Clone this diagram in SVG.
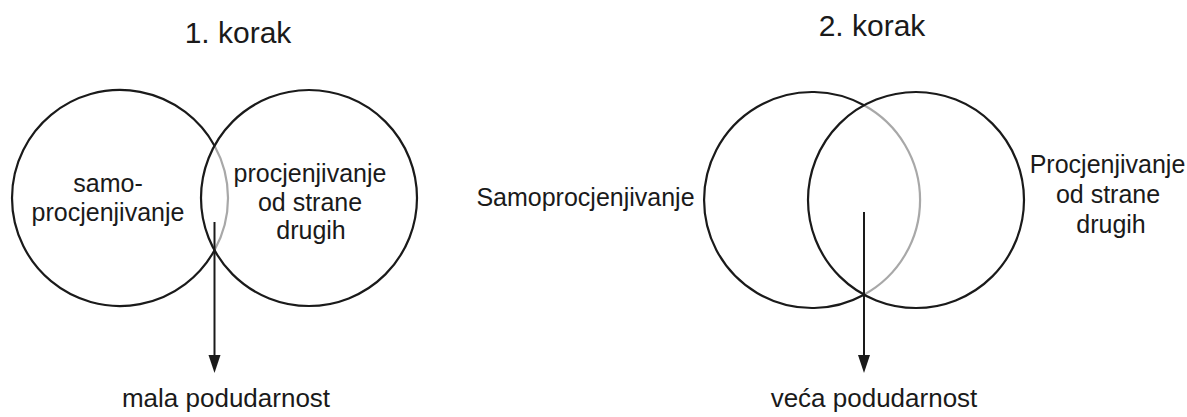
<svg xmlns="http://www.w3.org/2000/svg" width="1187" height="417" viewBox="0 0 1187 417">
<defs>
<style>
text{font-family:"Liberation Sans",Arial,sans-serif;fill:#1a1a1a;text-anchor:middle}
.lbl{font-size:25px}
.ttl{font-size:30px}
.res{font-size:26px}
.c{fill:none;stroke:#1a1a1a;stroke-width:2.2}
.g{fill:none;stroke:#a8a8a8;stroke-width:2.2}
.ln{stroke:#1a1a1a;stroke-width:2}
.hd{fill:#1a1a1a}
</style>
</defs>
<rect width="1187" height="417" fill="#fff"/>
<g id="title1"><text class="ttl" x="238" y="43">1. korak</text></g>
<g id="title2"><text class="ttl" x="872" y="36">2. korak</text></g>

<g id="self1">
<path class="c" d="M214.5,145.7 A108,108 0 1,0 214.5,250.3"/>
<path class="g" d="M214.5,145.7 A108,108 0 0,1 214.5,250.3"/>
<text class="lbl" x="108" y="192">samo-</text>
<text class="lbl" x="108" y="221">procjenjivanje</text>
</g>
<g id="others1">
<circle class="c" cx="309" cy="198" r="108"/>
<text class="lbl" x="310" y="182">procjenjivanje</text>
<text class="lbl" x="310" y="211">od strane</text>
<text class="lbl" x="311" y="239">drugih</text>
</g>
<g id="result1"><text class="res" x="226" y="407">mala podudarnost</text></g>

<g id="self2">
<path class="c" d="M864,105.3 A108,108 0 1,0 864,294.7"/>
<path class="g" d="M864,105.3 A108,108 0 0,1 864,294.7"/>
<text class="lbl" x="585.5" y="206">Samoprocjenjivanje</text>
</g>
<g id="others2">
<circle class="c" cx="916" cy="200" r="108"/>
<text class="lbl" x="1107.5" y="173">Procjenjivanje</text>
<text class="lbl" x="1108" y="203">od strane</text>
<text class="lbl" x="1111" y="233">drugih</text>
</g>
<g id="result2"><text class="res" x="874" y="407">veća podudarnost</text></g>

<g id="connectors">
<line class="ln" x1="214.5" y1="222" x2="214.5" y2="358"/>
<polygon class="hd" points="208.5,355 220.5,355 214.5,373"/>
<line class="ln" x1="864" y1="212" x2="864" y2="358"/>
<polygon class="hd" points="858,355 870,355 864,373"/>
</g>
</svg>
